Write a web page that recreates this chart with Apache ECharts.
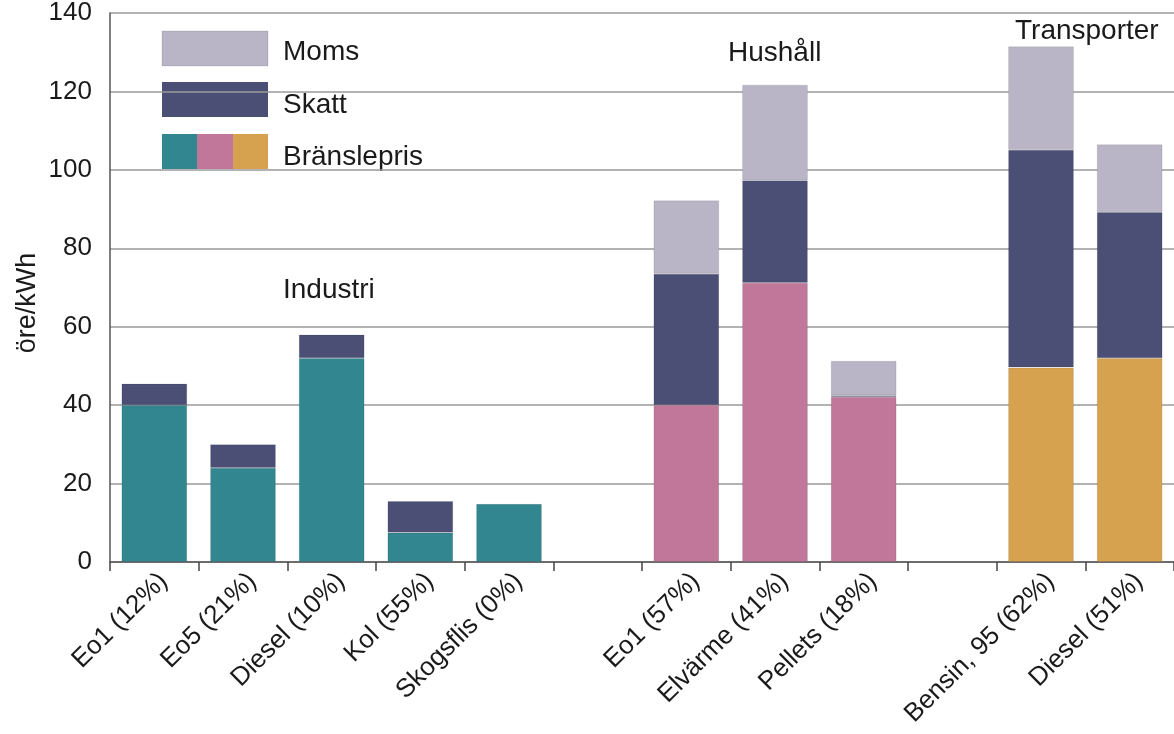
<!DOCTYPE html>
<html>
<head>
<meta charset="utf-8">
<script src="https://cdn.jsdelivr.net/npm/echarts@6/dist/echarts.min.js"></script>
<style>html,body{margin:0;padding:0;background:#fff}#c{width:1174px;height:734px}</style>
</head>
<body>
<div id="c"></div>
<script>
const categories = ['Eo1 (12%)','Eo5 (21%)','Diesel (10%)','Kol (55%)','Skogsflis (0%)',' ','Eo1 (57%)','Elvärme (41%)','Pellets (18%)','  ','Bensin, 95 (62%)','Diesel (51%)'];
const fuelIndustri  = [40, 24, 52, 7.5, 14.8, null, null, null, null, null, null, null];
const fuelHushall   = [null, null, null, null, null, null, 40, 71.2, 42.1, null, null, null];
const fuelTransport = [null, null, null, null, null, null, null, null, null, null, 49.6, 52];
const skatt = [5.5, 6, 6, 8, null, null, 33.5, 26.1, 0.4, null, 55.5, 37.2];
const moms  = [null, null, null, null, null, null, 18.7, 24.4, 8.8, null, 26.4, 17.3];
const yTicks = {min: 0, max: 140, interval: 20};
const groupLabels = ['Industri', 'Hushåll', 'Transporter'];
const legendLabels = ['Moms', 'Skatt', 'Bränslepris'];
const yName = 'öre/kWh';

const C = {teal:'#31868f', pink:'#c0779a', orange:'#d6a24f', skatt:'#4b4f76', moms:'#b9b5c7'};
const FONT = '"Liberation Sans", Arial, sans-serif';
const TXT = '#1a1a1a';

const chart = echarts.init(document.getElementById('c'), null, {renderer:'canvas'});
function bar(name, data, color){
  return {name, type:'bar', stack:'total', data, barWidth:'74%',
    itemStyle:{color, borderColor:'rgba(0,0,0,0.12)', borderWidth:0.8}, emphasis:{disabled:true}};
}
chart.setOption({
  animation:false,
  textStyle:{fontFamily:FONT},
  grid:{left:110, right:-8, top:12, bottom:172, containLabel:false},
  xAxis:{type:'category', data:categories, boundaryGap:true,
    axisLine:{lineStyle:{color:'#555', width:1.5}},
    axisTick:{show:true, length:9, lineStyle:{color:'#444', width:1.5}, alignWithLabel:false},
    axisLabel:{rotate:45, interval:0, fontSize:26, color:TXT, fontFamily:FONT, margin:6, verticalAlign:'top'},
    splitLine:{show:false}},
  yAxis:{type:'value', min:yTicks.min, max:yTicks.max, interval:yTicks.interval,
    axisLine:{show:true, lineStyle:{color:'#555', width:1.5}},
    axisTick:{show:false},
    axisLabel:{fontSize:26, color:TXT, fontFamily:FONT, margin:18},
    splitLine:{lineStyle:{color:'#9a9a9a', width:1.5}}},
  series:[
    bar('Bränslepris Industri', fuelIndustri, C.teal),
    bar('Bränslepris Hushåll', fuelHushall, C.pink),
    bar('Bränslepris Transporter', fuelTransport, C.orange),
    bar('Skatt', skatt, C.skatt),
    bar('Moms', moms, C.moms)
  ],
  graphic:[
    {type:'text', x:28, y:303, rotation:Math.PI/2,
      style:{text:yName, font:'27px '+FONT, fill:TXT, textAlign:'center', textVerticalAlign:'middle'}},
    {type:'rect', shape:{x:162, y:31, width:106, height:35}, style:{fill:C.moms, stroke:'rgba(0,0,0,0.1)'}},
    {type:'rect', shape:{x:162, y:82, width:106, height:35}, style:{fill:C.skatt}},
    {type:'rect', shape:{x:162, y:134, width:35, height:35}, style:{fill:C.teal}},
    {type:'rect', shape:{x:197, y:134, width:36, height:35}, style:{fill:C.pink}},
    {type:'rect', shape:{x:233, y:134, width:35, height:35}, style:{fill:C.orange}},
    {type:'text', x:283, y:52, style:{text:legendLabels[0], font:'28px '+FONT, fill:TXT, textVerticalAlign:'middle'}},
    {type:'text', x:283, y:105, style:{text:legendLabels[1], font:'28px '+FONT, fill:TXT, textVerticalAlign:'middle'}},
    {type:'text', x:283, y:157, style:{text:legendLabels[2], font:'28px '+FONT, fill:TXT, textVerticalAlign:'middle'}},
    {type:'text', x:283, y:290, style:{text:groupLabels[0], font:'28px '+FONT, fill:TXT, textVerticalAlign:'middle'}},
    {type:'text', x:728, y:53, style:{text:groupLabels[1], font:'28px '+FONT, fill:TXT, textVerticalAlign:'middle'}},
    {type:'text', x:1015, y:31, style:{text:groupLabels[2], font:'28px '+FONT, fill:TXT, textVerticalAlign:'middle'}}
  ]
});
</script>
</body>
</html>
